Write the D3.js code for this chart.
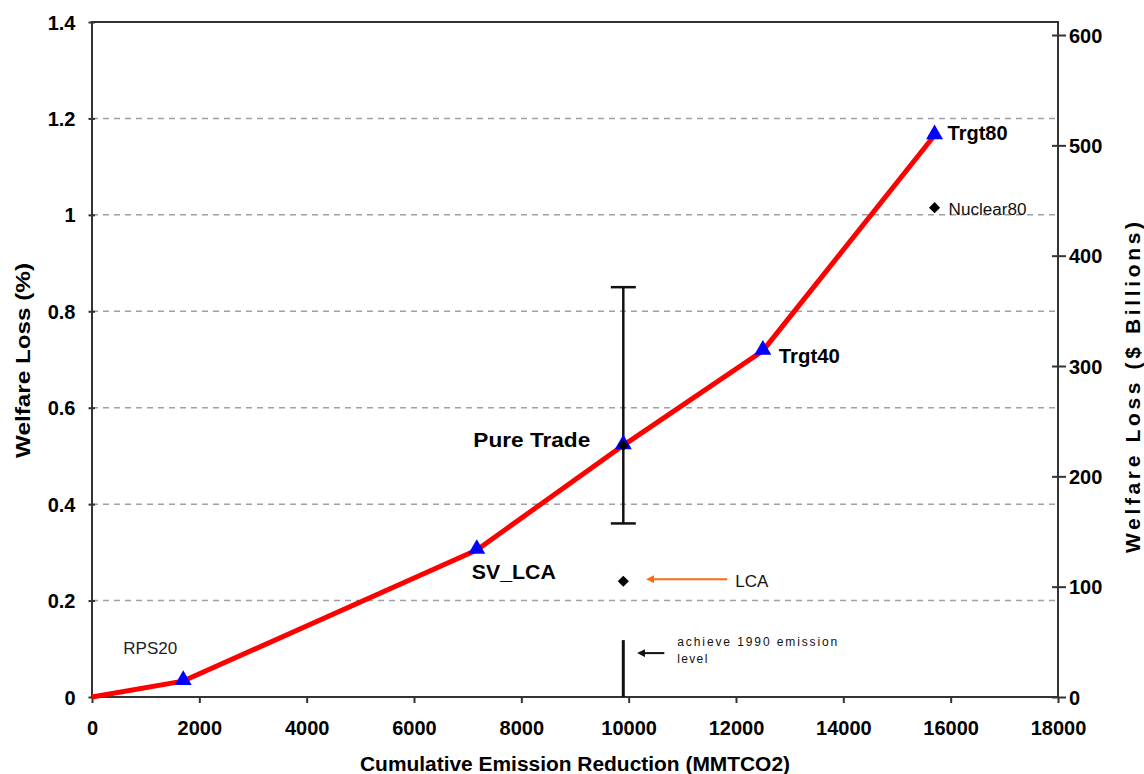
<!DOCTYPE html>
<html><head><meta charset="utf-8">
<script src="https://cdn.jsdelivr.net/npm/d3@7"></script>
<style>
html,body{margin:0;padding:0;background:#fff;}
svg{display:block;font-family:"Liberation Sans",Arial,sans-serif;}
</style></head>
<body><svg id="c" width="1144" height="774"></svg>
<script>
// ---- data ----
const scenarioNames = ["Origin", "RPS20", "SV_LCA", "Pure Trade", "Trgt40", "Trgt80"];
const scenarioX = [0, 1700, 7170, 9900, 12500, 15700];
const scenarioY = [0, 0.033, 0.305, 0.522, 0.718, 1.165];
const diamondNames = ["Pure Trade", "LCA", "Nuclear80"];
const diamondX = [9900, 9900, 15700];
const diamondY = [0.522, 0.24, 1.015];
const errorX = 9900, errorLow = 0.36, errorHigh = 0.85;
const emissionLineX = 9900, emissionLineTop = 0.118;
const xTicks = [0, 2000, 4000, 6000, 8000, 10000, 12000, 14000, 16000, 18000];
const yTicks = [0, 0.2, 0.4, 0.6, 0.8, 1, 1.2, 1.4];
const y2Ticks = [0, 100, 200, 300, 400, 500, 600];
const billionsPerPercent = 437;

// ---- layout ----
const L = 92, R = 1058, T = 22, B = 697;
const svg = d3.select("#c");
const x = d3.scaleLinear().domain([0, 18000]).range([L, R]);
const y = d3.scaleLinear().domain([0, 1.4]).range([B, T]);
const y2 = d3.scaleLinear().domain([0, 1.4 * billionsPerPercent]).range([B, T]);

// gridlines
svg.append("g").selectAll("line").data(yTicks.filter(d => d > 0 && d < 1.4)).join("line")
  .attr("x1", L).attr("x2", R).attr("y1", d => y(d)).attr("y2", d => y(d))
  .attr("stroke", "#a0a0a0").attr("stroke-width", 1.5).attr("stroke-dasharray", "6,5");

// axes
const axStyle = g => {
  g.select(".domain").remove();
  g.selectAll(".tick line").attr("stroke", "#333").attr("stroke-width", 2);
  g.selectAll(".tick text").attr("fill", "#000").attr("font-size", 20).attr("font-weight", "bold")
    .attr("font-family", "Liberation Sans, Arial, sans-serif");
};
const xAxis = svg.append("g").attr("transform", `translate(0,${B})`)
  .call(d3.axisBottom(x).tickValues(xTicks).tickFormat(d3.format("d")).tickSize(6).tickPadding(18)).call(axStyle);
const yAxis = svg.append("g").attr("transform", `translate(${L + 3},0)`)
  .call(d3.axisLeft(y).tickValues(yTicks).tickFormat(d => d3.format("")(+d.toFixed(1))).tickSize(6.5).tickPadding(13)).call(axStyle);
yAxis.selectAll(".tick text").attr("dy", "0.35em");
const y2Axis = svg.append("g").attr("transform", `translate(${R - 6},0)`)
  .call(d3.axisRight(y2).tickValues(y2Ticks).tickFormat(d3.format("d")).tickSize(14).tickPadding(3)).call(axStyle);
y2Axis.selectAll(".tick text").attr("dy", "0.35em");

// frame
svg.append("rect").attr("x", L).attr("y", T).attr("width", R - L).attr("height", B - T)
  .attr("fill", "none").attr("stroke", "#333").attr("stroke-width", 2);

// axis titles
svg.append("text").attr("x", 575).attr("y", 771).attr("text-anchor", "middle")
  .attr("font-size", 20).attr("font-weight", "bold").attr("textLength", 430).attr("lengthAdjust", "spacingAndGlyphs")
  .text("Cumulative Emission Reduction (MMTCO2)");
svg.append("text").attr("transform", "translate(30,360.5) rotate(-90)").attr("text-anchor", "middle")
  .attr("font-size", 20).attr("font-weight", "bold").attr("textLength", 195).attr("lengthAdjust", "spacingAndGlyphs")
  .text("Welfare Loss (%)");
svg.append("text").attr("transform", "translate(1140,387.5) rotate(-90)").attr("text-anchor", "middle")
  .attr("font-size", 21).attr("font-weight", "bold").attr("textLength", 331).attr("lengthAdjust", "spacing")
  .text("Welfare Loss ($ Billions)");

// main line
const pts = scenarioX.map((v, i) => [v, scenarioY[i]]);
svg.append("path").datum(pts)
  .attr("d", d3.line().x(d => x(d[0])).y(d => y(d[1])))
  .attr("fill", "none").attr("stroke", "#ff0000").attr("stroke-width", 5).attr("stroke-linejoin", "round");

// error bar
const eb = svg.append("g").attr("stroke", "#111").attr("stroke-width", 2.5);
eb.append("line").attr("x1", x(errorX)).attr("x2", x(errorX)).attr("y1", y(errorLow)).attr("y2", y(errorHigh));
[errorLow, errorHigh].forEach(v => eb.append("line").attr("x1", x(errorX) - 12.5).attr("x2", x(errorX) + 12.5)
  .attr("y1", y(v)).attr("y2", y(v)));

// 1990 emission level line
svg.append("line").attr("x1", x(emissionLineX)).attr("x2", x(emissionLineX))
  .attr("y1", y(emissionLineTop)).attr("y2", y(0)).attr("stroke", "#111").attr("stroke-width", 3);

// triangles
svg.append("g").selectAll("path").data(pts.slice(1)).join("path")
  .attr("transform", d => `translate(${x(d[0])},${y(d[1]) - 1})`)
  .attr("d", d3.symbol(d3.symbolTriangle, 125)).attr("fill", "#0000ff");

// diamonds
svg.append("g").selectAll("path").data(diamondX.map((v, i) => [v, diamondY[i]])).join("path")
  .attr("transform", d => `translate(${x(d[0])},${y(d[1])}) rotate(45)`)
  .attr("d", d3.symbol(d3.symbolSquare, 62)).attr("fill", "#000");

// point labels
const labelStyle = {
  "RPS20": {dx: -60, dy: -27, w: 54, fs: 17, bold: false, anchor: "start", fill: "#222"},
  "SV_LCA": {dx: -5, dy: 29, w: 84, fs: 20, bold: true, anchor: "start", fill: "#000"},
  "Pure Trade": {dx: -150, dy: 2, w: 117, fs: 20, bold: true, anchor: "start", fill: "#000"},
  "Trgt40": {dx: 16, dy: 12, w: 61, fs: 20, bold: true, anchor: "start", fill: "#000"},
  "Trgt80": {dx: 13, dy: 5, w: 60, fs: 20, bold: true, anchor: "start", fill: "#000"}
};
scenarioNames.forEach((n, i) => {
  const s = labelStyle[n]; if (!s) return;
  svg.append("text").attr("x", x(scenarioX[i]) + s.dx).attr("y", y(scenarioY[i]) + s.dy)
    .attr("font-size", s.fs).attr("font-weight", s.bold ? "bold" : "normal").attr("fill", s.fill)
    .attr("textLength", s.w).attr("lengthAdjust", "spacingAndGlyphs").text(n);
});
// Nuclear80 label
svg.append("text").attr("x", x(diamondX[2]) + 14).attr("y", y(diamondY[2]) + 7)
  .attr("font-size", 16).attr("fill", "#111").attr("textLength", 78).attr("lengthAdjust", "spacingAndGlyphs").text("Nuclear80");

// LCA arrow + label
svg.append("defs").html(`
 <marker id="ao" viewBox="0 0 10 10" refX="1" refY="5" markerWidth="4" markerHeight="4" orient="auto-start-reverse"><path d="M0,0L10,5L0,10z" fill="#ff6a13"/></marker>
 <marker id="ab" viewBox="0 0 10 10" refX="1" refY="5" markerWidth="4" markerHeight="4" orient="auto-start-reverse"><path d="M0,0L10,5L0,10z" fill="#111"/></marker>`);
const lcaX = x(diamondX[1]), lcaY = y(diamondY[1]);
svg.append("line").attr("x1", lcaX + 104).attr("x2", lcaX + 30).attr("y1", lcaY - 2).attr("y2", lcaY - 2)
  .attr("stroke", "#ff6a13").attr("stroke-width", 2).attr("marker-end", "url(#ao)");
svg.append("text").attr("x", lcaX + 112).attr("y", lcaY + 6).attr("font-size", 17).attr("fill", "#111")
  .attr("textLength", 33).attr("lengthAdjust", "spacingAndGlyphs").text("LCA");

// 1990 emission annotation
const eX = x(emissionLineX), eY = y(emissionLineTop);
svg.append("line").attr("x1", eX + 41).attr("x2", eX + 21).attr("y1", eY + 13).attr("y2", eY + 13)
  .attr("stroke", "#111").attr("stroke-width", 2).attr("marker-end", "url(#ab)");
svg.append("text").attr("x", eX + 54).attr("y", eY + 6).attr("font-size", 12).attr("fill", "#111")
  .attr("textLength", 160).attr("lengthAdjust", "spacing").text("achieve 1990 emission");
svg.append("text").attr("x", eX + 54).attr("y", eY + 23).attr("font-size", 12).attr("fill", "#111")
  .attr("textLength", 30).attr("lengthAdjust", "spacing").text("level");
</script></body></html>
